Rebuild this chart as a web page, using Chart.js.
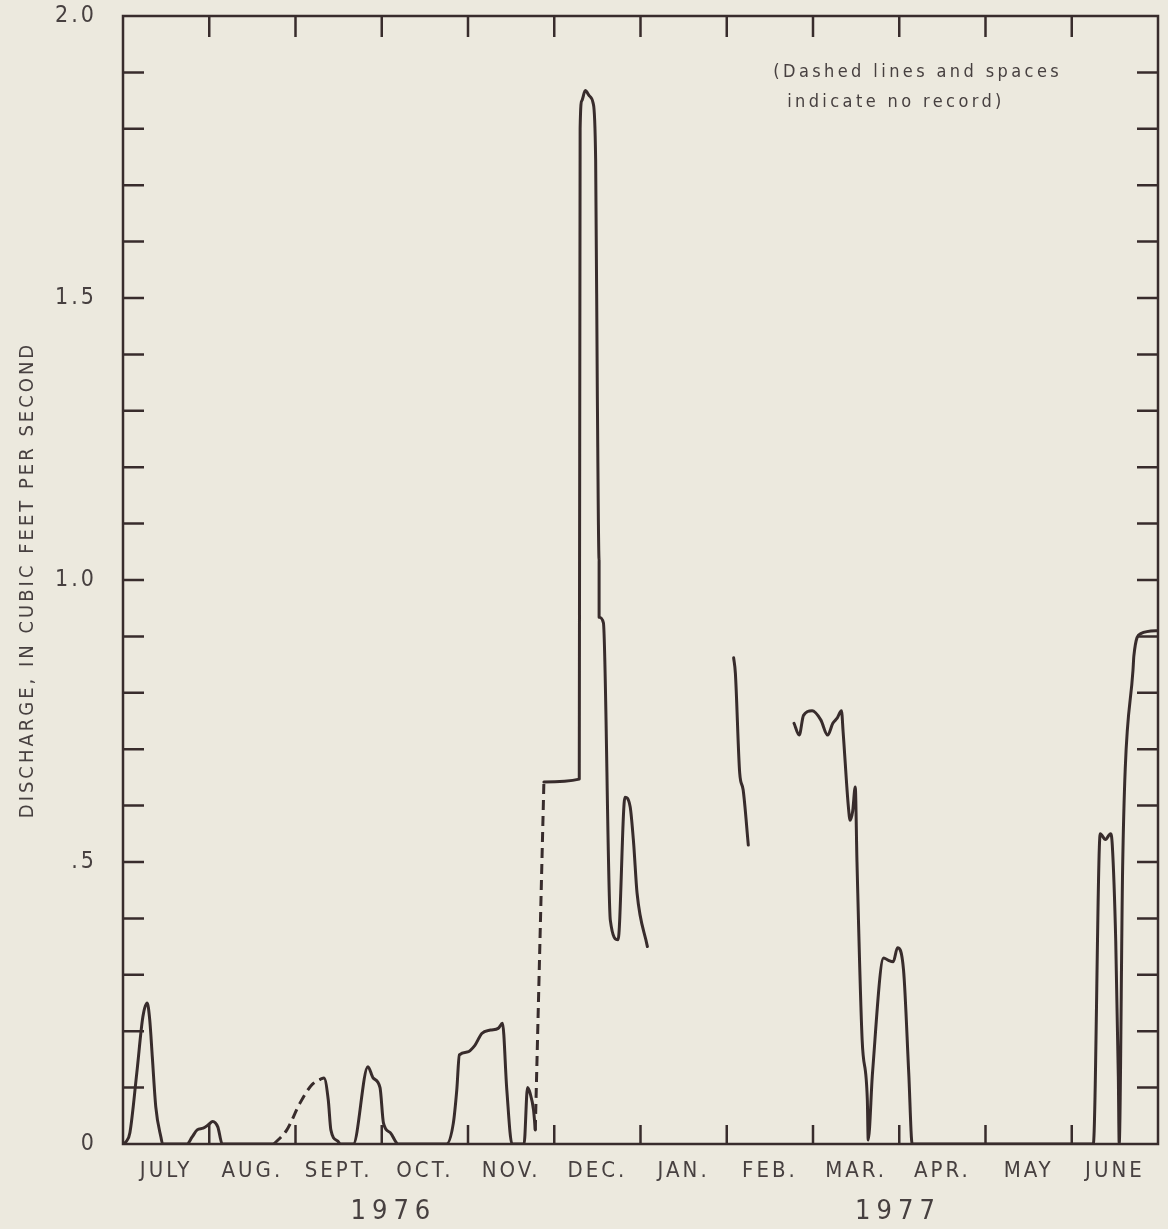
<!DOCTYPE html>
<html lang="en">
  <head>
    <meta charset="UTF-8" />
    <title>Discharge, 1976-77</title>
    <script src="https://cdn.jsdelivr.net/npm/chart.js"></script>
    <style>
      html,
      body {
        margin: 0;
        padding: 0;
        background: #ece9de;
      }
      .graph-container {
        position: relative;
        width: 1168px;
        height: 1229px;
      }
    </style>
  </head>
  <body>
    <div class="graph-container"><canvas id="graph"></canvas></div>

    <script>
      // x is measured in months from 1 July 1976 (0) to 30 June 1977 (12)
      const monthLabels = ["JULY", "AUG.", "SEPT.", "OCT.", "NOV.", "DEC.", "JAN.", "FEB.", "MAR.", "APR.", "MAY", "JUNE"];
      const monthCenters = [0.5, 1.5, 2.5, 3.5, 4.5, 5.5, 6.5, 7.5, 8.5, 9.5, 10.5, 11.5];
      const monthBounds = [1, 2, 3, 4, 5, 6, 7, 8, 9, 10, 11];
      const yearLabels = ["1976", "1977"];
      const yearCenters = [3.1, 8.95];

      const yTickValues = [0, 0.5, 1, 1.5, 2];
      const yTickLabels = ["0", ".5", "1.0", "1.5", "2.0"];
      const yMinorTicks = [0.1, 0.2, 0.3, 0.4, 0.5, 0.6, 0.7, 0.8, 0.9, 1.0, 1.1, 1.2, 1.3, 1.4, 1.5, 1.6, 1.7, 1.8, 1.9];

      // recorded discharge (null = break in the trace)
      const recordX = [
        0.0, 0.04, 0.08, 0.16, 0.23, 0.28, 0.31, 0.34, 0.38, 0.44, 0.46,
        0.74, 0.8, 0.86, 0.93, 0.99, 1.04, 1.1, 1.15, 1.75, null,
        2.29, 2.33, 2.38, 2.41, 2.49, 2.52,
        2.67, 2.84, 2.9, 2.98, 3.02, 3.1, 3.19,
        3.75, 3.83, 3.87, 3.9, 3.99, 4.08, 4.16, 4.26, 4.35, 4.4, 4.45, 4.51,
        4.65, 4.69, 4.72, 4.76, 4.78, null,
        4.88, 5.29, 5.3, 5.32, 5.36, 5.41, 5.45, 5.48, 5.5, 5.52, 5.52, 5.57,
        5.65, 5.74, 5.82, 5.88, 5.92, 5.96, 6.08, null,
        7.08, 7.1, 7.15, 7.19, 7.25, null,
        7.78, 7.84, 7.89, 7.99, 8.09, 8.17, 8.23, 8.28, 8.33, 8.35, 8.41, 8.43,
        8.46, 8.49, 8.51, 8.57, 8.63, 8.64, 8.69, 8.82, 8.87, 8.93, 8.98, 9.05,
        9.11, 9.15,
        11.25, 11.33, 11.39, 11.45, 11.47, 11.51, 11.54, 11.55, 11.59, 11.62,
        11.71, 11.72, 11.8, 12.0
      ];
      const recordY = [
        0, 0.005, 0.02, 0.126, 0.225, 0.25, 0.22, 0.154, 0.066, 0.012, 0,
        0, 0.012, 0.025, 0.028, 0.034, 0.04, 0.03, 0, 0, null,
        0.115, 0.117, 0.078, 0.025, 0.005, 0,
        0, 0.137, 0.117, 0.1, 0.037, 0.02, 0,
        0, 0.037, 0.096, 0.158, 0.163, 0.175, 0.196, 0.202, 0.205, 0.214, 0.096, 0,
        0, 0.1, 0.09, 0.06, 0.025, null,
        0.642, 0.647, 1.8, 1.85, 1.868, 1.858, 1.846, 1.745, 1.32, 1.035, 0.934, 0.924,
        0.397, 0.362, 0.615, 0.598, 0.534, 0.445, 0.35, null,
        0.862, 0.835, 0.658, 0.628, 0.53, null,
        0.746, 0.725, 0.76, 0.768, 0.752, 0.725, 0.746, 0.755, 0.768, 0.729, 0.598, 0.574,
        0.59, 0.633, 0.5, 0.184, 0.078, 0.007, 0.126, 0.33, 0.326, 0.323, 0.348, 0.308,
        0.126, 0,
        0, 0.55, 0.54, 0.55, 0.53, 0.36, 0.12, 0, 0.49, 0.665,
        0.84, 0.865, 0.905, 0.91
      ];

      // estimated (dashed) parts
      const dashedX = [1.75, 1.9, 2.05, 2.19, 2.29, null, 4.78, 4.88];
      const dashedY = [0, 0.025, 0.072, 0.105, 0.115, null, 0.025, 0.642];

      const ink = "#382c2c";
      const textInk = "#474040";
      const paperColor = "#ece9de";
      const fontFamily = "'DejaVu Sans Condensed', 'Liberation Sans Narrow', 'DejaVu Sans', sans-serif";

      function toPoints(xs, ys) {
        return xs.map((x, i) => ({ x: x, y: ys[i] }));
      }

      const paper = {
        id: "paper",
        beforeDraw(chart) {
          const ctx = chart.ctx;
          ctx.save();
          ctx.fillStyle = paperColor;
          ctx.fillRect(0, 0, chart.width, chart.height);
          ctx.restore();
          ctx.letterSpacing = "3px";
        },
      };

      const frame = {
        id: "frame",
        afterDraw(chart) {
          const ctx = chart.ctx;
          const a = chart.chartArea;
          const xs = chart.scales.x;
          const ys = chart.scales.y;

          ctx.save();
          ctx.strokeStyle = ink;
          ctx.lineWidth = 2.5;
          ctx.strokeRect(a.left, a.top, a.right - a.left, a.bottom - a.top);

          ctx.beginPath();
          yMinorTicks.forEach((v) => {
            const py = ys.getPixelForValue(v);
            ctx.moveTo(a.left, py);
            ctx.lineTo(a.left + 21, py);
            ctx.moveTo(a.right, py);
            ctx.lineTo(a.right - 21, py);
          });
          monthBounds.forEach((v) => {
            const px = xs.getPixelForValue(v);
            ctx.moveTo(px, a.top);
            ctx.lineTo(px, a.top + 21);
            ctx.moveTo(px, a.bottom);
            ctx.lineTo(px, a.bottom - 19);
          });
          ctx.stroke();

          ctx.fillStyle = textInk;
          ctx.textBaseline = "middle";

          // years under the month names
          ctx.font = "27px " + fontFamily;
          ctx.letterSpacing = "6px";
          ctx.textAlign = "center";
          yearLabels.forEach((t, i) => {
            ctx.fillText(t, xs.getPixelForValue(yearCenters[i]) + 3, a.bottom + 68);
          });

          // axis title
          ctx.font = "20px " + fontFamily;
          ctx.letterSpacing = "3px";
          ctx.save();
          ctx.translate(28, (a.top + a.bottom) / 2);
          ctx.rotate(-Math.PI / 2);
          ctx.fillText("DISCHARGE, IN CUBIC FEET PER SECOND", 0, 0);
          ctx.restore();

          // note
          ctx.font = "18px " + fontFamily;
          ctx.letterSpacing = "3.4px";
          ctx.textAlign = "left";
          ctx.fillText("(Dashed lines and spaces", xs.getPixelForValue(7.54), ys.getPixelForValue(1.9));
          ctx.fillText("indicate no record)", xs.getPixelForValue(7.7), ys.getPixelForValue(1.847));
          ctx.restore();
        },
      };

      function createChart() {
        const ctx = document.getElementById("graph").getContext("2d");

        new Chart(ctx, {
          type: "line",
          data: {
            datasets: [
              {
                label: "Recorded",
                data: toPoints(recordX, recordY),
                borderColor: ink,
                borderWidth: 3,
                pointRadius: 0,
                cubicInterpolationMode: "monotone",
                spanGaps: false,
                borderJoinStyle: "round",
                borderCapStyle: "round",
              },
              {
                label: "Estimated",
                data: toPoints(dashedX, dashedY),
                borderColor: ink,
                borderWidth: 3,
                borderDash: [10, 6],
                pointRadius: 0,
                cubicInterpolationMode: "monotone",
                spanGaps: false,
              },
            ],
          },
          options: {
            responsive: true,
            maintainAspectRatio: false,
            animation: false,
            layout: { padding: { top: 16, right: 10, left: 0, bottom: 0 } },
            plugins: {
              legend: { display: false },
              tooltip: { enabled: false },
            },
            scales: {
              x: {
                type: "linear",
                min: 0,
                max: 12,
                grid: { display: false },
                border: { display: false },
                afterBuildTicks: (scale) => {
                  scale.ticks = monthCenters.map((v) => ({ value: v }));
                },
                afterFit: (scale) => {
                  scale.height = 85;
                  scale.paddingLeft = 0;
                  scale.paddingRight = 0;
                },
                ticks: {
                  autoSkip: false,
                  maxRotation: 0,
                  padding: 6,
                  color: textInk,
                  font: { size: 22, family: fontFamily },
                  callback: (value, index) => monthLabels[index],
                },
              },
              y: {
                min: 0,
                max: 2,
                grid: { display: false },
                border: { display: false },
                afterBuildTicks: (scale) => {
                  scale.ticks = yTickValues.map((v) => ({ value: v }));
                },
                afterFit: (scale) => {
                  scale.width = 123;
                  scale.paddingTop = 0;
                  scale.paddingBottom = 0;
                },
                ticks: {
                  padding: 18,
                  color: textInk,
                  font: { size: 23, family: fontFamily },
                  callback: (value, index) => yTickLabels[index],
                },
              },
            },
          },
          plugins: [paper, frame],
        });
      }

      document.addEventListener("DOMContentLoaded", createChart);
    </script>
  </body>
</html>
